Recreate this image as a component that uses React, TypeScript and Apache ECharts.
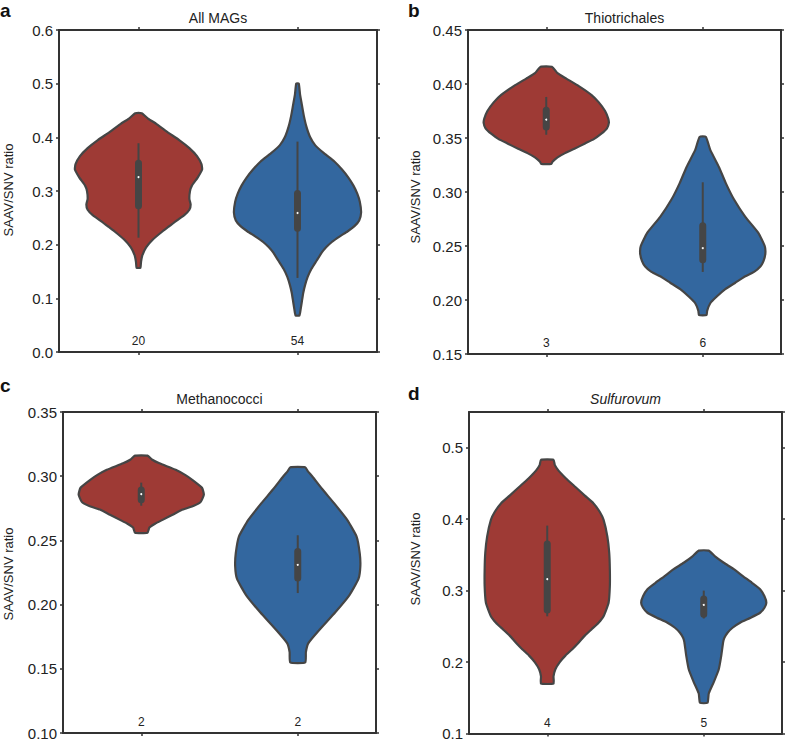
import React, { useEffect, useRef } from "react";
import * as echarts from "echarts";

const FONT = "'Liberation Sans', Arial, Helvetica, sans-serif";

const categories = ["Group 1", "Group 2"];
const panelLetters = ["a", "b", "c", "d"];
const panelTitles = ["All MAGs", "Thiotrichales", "Methanococci", "Sulfurovum"];
const yAxisName = "SAAV/SNV ratio";

const yMins = [0.0, 0.15, 0.1, 0.1];
const yMaxs = [0.6, 0.45, 0.35, 0.55];
const yIntervals = [0.1, 0.05, 0.05, 0.1];
const yDecimals = [1, 2, 2, 1];

const countsA = [20, 54];
const countsB = [3, 6];
const countsC = [2, 2];
const countsD = [4, 5];

// violin outlines: [value, relative half-width]
const violinARed = [[0.445,0.05],[0.435,0.15],[0.425,0.28],[0.41,0.45],[0.395,0.64],[0.38,0.8],[0.365,0.92],[0.35,0.99],[0.34,1.0],[0.325,0.93],[0.31,0.84],[0.3,0.81],[0.285,0.8],[0.275,0.82],[0.265,0.8],[0.255,0.72],[0.245,0.6],[0.235,0.49],[0.225,0.38],[0.21,0.23],[0.195,0.12],[0.18,0.06],[0.168,0.04],[0.157,0.03]];
const violinABlue = [[0.5,0.02],[0.48,0.04],[0.46,0.07],[0.44,0.1],[0.42,0.14],[0.4,0.2],[0.385,0.28],[0.37,0.42],[0.355,0.58],[0.34,0.7],[0.325,0.8],[0.31,0.88],[0.295,0.94],[0.28,0.98],[0.26,1.0],[0.245,0.97],[0.235,0.9],[0.225,0.79],[0.215,0.66],[0.205,0.54],[0.195,0.45],[0.185,0.38],[0.17,0.3],[0.155,0.22],[0.14,0.16],[0.125,0.12],[0.11,0.09],[0.095,0.07],[0.08,0.05],[0.068,0.03]];
const violinBRed = [[0.416,0.09],[0.41,0.18],[0.405,0.32],[0.398,0.52],[0.39,0.72],[0.383,0.84],[0.375,0.94],[0.368,0.99],[0.364,1.0],[0.359,0.97],[0.354,0.88],[0.349,0.76],[0.345,0.62],[0.34,0.45],[0.336,0.3],[0.332,0.18],[0.328,0.1],[0.326,0.08]];
const violinBBlue = [[0.351,0.05],[0.339,0.12],[0.323,0.26],[0.308,0.37],[0.293,0.5],[0.277,0.68],[0.262,0.89],[0.25,0.99],[0.243,1.0],[0.236,0.97],[0.231,0.92],[0.226,0.82],[0.222,0.68],[0.216,0.52],[0.21,0.36],[0.203,0.22],[0.197,0.12],[0.19,0.07],[0.186,0.06]];
const violinCRed = [[0.316,0.1],[0.313,0.17],[0.31,0.29],[0.305,0.55],[0.301,0.7],[0.297,0.82],[0.291,0.97],[0.2856,1.0],[0.28,0.95],[0.277,0.84],[0.274,0.66],[0.27,0.5],[0.266,0.34],[0.263,0.22],[0.26,0.13],[0.256,0.1]];
const violinCBlue = [[0.307,0.12],[0.304,0.16],[0.3,0.23],[0.29,0.39],[0.279,0.58],[0.266,0.79],[0.253,0.94],[0.24,0.99],[0.23,1.0],[0.22,0.97],[0.207,0.82],[0.194,0.6],[0.18,0.34],[0.17,0.17],[0.163,0.13],[0.155,0.12]];
const violinDRed = [[0.483,0.1],[0.476,0.12],[0.468,0.18],[0.457,0.3],[0.445,0.45],[0.433,0.6],[0.422,0.74],[0.41,0.84],[0.399,0.9],[0.376,0.96],[0.353,0.99],[0.33,1.0],[0.306,1.0],[0.283,0.98],[0.264,0.9],[0.255,0.82],[0.246,0.71],[0.237,0.6],[0.227,0.5],[0.218,0.4],[0.209,0.29],[0.2,0.2],[0.19,0.13],[0.18,0.1],[0.17,0.1]];
const violinDBlue = [[0.356,0.08],[0.348,0.18],[0.339,0.32],[0.33,0.48],[0.32,0.63],[0.311,0.77],[0.302,0.9],[0.292,0.97],[0.283,1.0],[0.276,0.97],[0.269,0.9],[0.262,0.75],[0.255,0.58],[0.248,0.46],[0.241,0.38],[0.234,0.33],[0.228,0.31],[0.209,0.28],[0.19,0.24],[0.172,0.16],[0.156,0.08],[0.143,0.06]];

// inner box stats: [whisker low, q1, median, q3, whisker high]
const boxARed = [0.213, 0.266, 0.326, 0.358, 0.389];
const boxABlue = [0.138, 0.224, 0.259, 0.302, 0.392];
const boxBRed = [0.353, 0.357, 0.367, 0.379, 0.388];
const boxBBlue = [0.226, 0.234, 0.248, 0.272, 0.309];
const boxCRed = [0.277, 0.279, 0.286, 0.292, 0.295];
const boxCBlue = [0.209, 0.218, 0.231, 0.244, 0.254];
const boxDRed = [0.264, 0.268, 0.316, 0.37, 0.391];
const boxDBlue = [0.261, 0.262, 0.28, 0.293, 0.3];

const violinColors = ["#9e3a35", "#33679f"];
const EDGE = "#454545";
const AXIS = "#333333";

const panels = [
  { profiles: [violinARed, violinABlue], boxes: [boxARed, boxABlue], counts: countsA },
  { profiles: [violinBRed, violinBBlue], boxes: [boxBRed, boxBBlue], counts: countsB },
  { profiles: [violinCRed, violinCBlue], boxes: [boxCRed, boxCBlue], counts: countsC },
  { profiles: [violinDRed, violinDBlue], boxes: [boxDRed, boxDBlue], counts: countsD },
];

const grids = [
  { left: 59, top: 30, width: 318, height: 322 },
  { left: 468, top: 30, width: 313, height: 324 },
  { left: 63, top: 412, width: 313, height: 321 },
  { left: 469, top: 412, width: 313, height: 323 },
];

const letterPos = [[0, 10], [408, 10], [0, 385], [408, 393]];
const titleY = [18, 18, 399, 399];
const yNamePos = [[8, 190], [415, 197], [8, 574], [415, 559]];

function makeRenderItem(p: any, yMin: number) {
  return (params: any, api: any) => {
    const i = params.dataIndex;
    const cat = api.value(0);
    const band = api.size([1, 0])[0];
    const half = band * 0.4;
    const base = api.coord([cat, yMin]);
    const cx = base[0];
    const Y = (v: number) => api.coord([cat, v])[1];
    const prof = p.profiles[i];
    const right = prof.map((d: number[]) => [cx + d[1] * half, Y(d[0])]);
    const left = prof.slice().reverse().map((d: number[]) => [cx - d[1] * half, Y(d[0])]);
    const b = p.boxes[i];
    const bw = 7;
    return {
      type: "group",
      children: [
        {
          type: "polygon",
          shape: { points: right.concat(left), smooth: 0.15 },
          style: { fill: violinColors[i], stroke: EDGE, lineWidth: 2.2, lineJoin: "round" },
        },
        {
          type: "line",
          shape: { x1: cx, y1: Y(b[0]), x2: cx, y2: Y(b[4]) },
          style: { stroke: EDGE, lineWidth: 2 },
        },
        {
          type: "rect",
          shape: { x: cx - bw / 2, y: Y(b[3]), width: bw, height: Y(b[1]) - Y(b[3]), r: bw / 2 },
          style: { fill: EDGE },
        },
        {
          type: "circle",
          shape: { cx: cx, cy: Y(b[2]), r: 1 },
          style: { fill: "#ffffff" },
        },
        {
          type: "text",
          style: {
            text: String(p.counts[i]),
            x: cx,
            y: base[1] - 11,
            align: "center",
            verticalAlign: "middle",
            fontSize: 12,
            fontFamily: FONT,
            fill: "#222",
          },
        },
      ],
    };
  };
}

export default function App() {
  const ref = useRef<HTMLDivElement>(null);
  useEffect(() => {
    if (!ref.current) return;
    const chart = echarts.init(ref.current, undefined, { renderer: "svg" });
    const xAxis: any[] = [];
    const yAxis: any[] = [];
    const series: any[] = [];
    const graphic: any[] = [];
    const lineStyle = { color: AXIS, width: 2 };
    const tickStyle = { color: AXIS, width: 1.5 };
    panels.forEach((p, g) => {
      ["bottom", "top"].forEach((pos) => {
        xAxis.push({
          gridIndex: g,
          type: "category",
          data: categories,
          position: pos,
          boundaryGap: true,
          axisLine: { show: true, onZero: false, lineStyle },
          axisTick: { show: true, alignWithLabel: true, length: 3, lineStyle: tickStyle },
          axisLabel: { show: false },
          splitLine: { show: false },
        });
      });
      ["left", "right"].forEach((pos) => {
        yAxis.push({
          gridIndex: g,
          type: "value",
          position: pos,
          min: yMins[g],
          max: yMaxs[g],
          interval: yIntervals[g],
          axisLine: { show: true, lineStyle },
          axisTick: { show: true, length: 3, lineStyle: tickStyle },
          axisLabel: {
            show: pos === "left",
            fontSize: 15,
            fontFamily: FONT,
            color: "#222",
            margin: 6,
            showMaxLabel: g !== 3,
            formatter: (v: number) =>
              g === 3 && Math.abs(v - 0.55) < 1e-6 ? "" : v.toFixed(yDecimals[g]),
          },
          splitLine: { show: false },
        });
      });
      series.push({
        type: "custom",
        xAxisIndex: 2 * g,
        yAxisIndex: 2 * g,
        renderItem: makeRenderItem(p, yMins[g]),
        data: categories.map((c, i) => [i, p.boxes[i][2]]),
        encode: { x: 0, y: 1 },
        clip: false,
        silent: true,
      });
      const gr = grids[g];
      graphic.push({
        type: "text",
        x: letterPos[g][0],
        y: letterPos[g][1],
        style: {
          text: panelLetters[g],
          align: "left",
          verticalAlign: "middle",
          fontSize: 19,
          fontWeight: "bold",
          fontFamily: FONT,
          fill: "#111",
        },
      });
      graphic.push({
        type: "text",
        x: gr.left + gr.width / 2,
        y: titleY[g],
        style: {
          text: panelTitles[g],
          align: "center",
          verticalAlign: "middle",
          fontSize: 14,
          fontStyle: g === 3 ? "italic" : "normal",
          fontFamily: FONT,
          fill: "#222",
        },
      });
      graphic.push({
        type: "text",
        x: yNamePos[g][0],
        y: yNamePos[g][1],
        rotation: Math.PI / 2,
        style: {
          text: yAxisName,
          align: "center",
          verticalAlign: "middle",
          fontSize: 13,
          fontFamily: FONT,
          fill: "#222",
        },
      });
    });
    chart.setOption({
      animation: false,
      backgroundColor: "#ffffff",
      grid: grids.map((g) => ({ ...g, containLabel: false })),
      xAxis,
      yAxis,
      series,
      graphic,
    });
    return () => chart.dispose();
  }, []);
  return (
    <div
      ref={ref}
      style={{ position: "absolute", left: 0, top: 0, width: 786, height: 741 }}
    />
  );
}
